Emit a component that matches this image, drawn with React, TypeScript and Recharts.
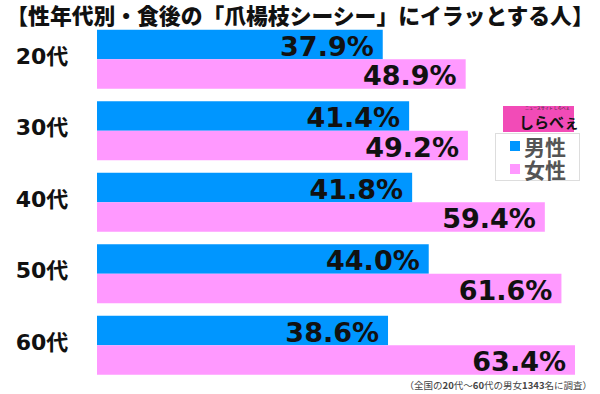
import React from 'react';
import { BarChart, Bar, XAxis, YAxis, LabelList } from 'recharts';

const categories = ['20代', '30代', '40代', '50代', '60代'];
const maleValues = [37.9, 41.4, 41.8, 44.0, 38.6];
const femaleValues = [48.9, 49.2, 59.4, 61.6, 63.4];
const seriesNames = ['男性', '女性'];
const title = '【性年代別・食後の「爪楊枝シーシー」にイラッとする人】';

const MALE = '#0096ff';
const FEMALE = '#ff99ff';

const data = categories.map((c, i) => ({ name: c, male: maleValues[i], female: femaleValues[i] }));

const numFont = '"DejaVu Sans", "Noto Sans CJK JP", sans-serif';
const jpFont = '"Noto Sans CJK JP", "DejaVu Sans", sans-serif';

const YTick = (props: any) => {
  const { y, payload } = props;
  return (
    <text x={42} y={y + 4} textAnchor="middle" fontSize={22} fontWeight="bold" fill="#111" fontFamily={numFont}>
      {payload.value}
    </text>
  );
};

const ValueLabel = (props: any) => {
  const { x, y, width, height, value } = props;
  return (
    <text
      x={x + width - 9}
      y={y + height / 2 + 11}
      textAnchor="end"
      fontSize={27}
      fontWeight="bold"
      fill="#111"
      fontFamily={numFont}
    >
      {Number(value).toFixed(1) + '%'}
    </text>
  );
};

const LegendBox = () => (
  <div style={{ position: 'absolute', left: 497, top: 106, width: 90, height: 80 }}>
    <div style={{ position: 'absolute', left: 6, top: 0, width: 71, height: 26, background: '#f24bb7' }}>
      <span
        style={{
          position: 'absolute', top: 0, left: 22, fontSize: 4, lineHeight: '5px', color: '#222', fontFamily: jpFont,
          whiteSpace: 'nowrap',
        }}
      >
        ニュースサイト しらべぇ
      </span>
      <span
        style={{
          position: 'absolute', top: 7, left: 16, fontSize: 15, fontWeight: 'bold', color: '#111', fontFamily: jpFont,
          lineHeight: '18px', whiteSpace: 'nowrap',
        }}
      >
        しらべぇ
      </span>
    </div>
    <div
      style={{
        position: 'absolute', left: -2, top: 27, width: 85, height: 48, border: '1px solid #ddd', boxSizing: 'border-box',
        background: '#fff',
      }}
    >
      {seriesNames.map((n, i) => (
        <div key={n} style={{ position: 'absolute', left: 14, top: 1 + i * 23, height: 22, display: 'flex', alignItems: 'center' }}>
          <div style={{ width: 10, height: 10, background: i === 0 ? MALE : FEMALE, marginRight: 4 }} />
          <span style={{ fontSize: 21, fontWeight: 'bold', color: '#555', fontFamily: jpFont, lineHeight: '22px' }}>{n}</span>
        </div>
      ))}
    </div>
  </div>
);

export default function App() {
  return (
    <div style={{ position: 'absolute', left: 0, top: 0, width: 600, height: 394, background: '#fff', overflow: 'hidden' }}>
      <div
        style={{
          position: 'absolute', left: 0, top: 1, width: 600, textAlign: 'center', fontFamily: jpFont,
          fontWeight: 900, fontSize: 21.8, color: '#111', lineHeight: '28px', whiteSpace: 'nowrap',
        }}
      >
        {title}
      </div>
      <BarChart
        width={600}
        height={394}
        data={data}
        layout="vertical"
        margin={{ top: 23.75, right: 5.4, bottom: 12.75, left: 0 }}
        barGap={0}
        barSize={29.5}
      >
        <XAxis type="number" domain={[0, 66]} hide />
        <YAxis type="category" dataKey="name" width={97} axisLine={false} tickLine={false} tick={<YTick />} interval={0} />
        <Bar dataKey="male" name={seriesNames[0]} fill={MALE} isAnimationActive={false}>
          <LabelList dataKey="male" content={<ValueLabel />} />
        </Bar>
        <Bar dataKey="female" name={seriesNames[1]} fill={FEMALE} isAnimationActive={false}>
          <LabelList dataKey="female" content={<ValueLabel />} />
        </Bar>
      </BarChart>
      <LegendBox />
      <div
        style={{
          position: 'absolute', right: 8, top: 378, fontSize: 9.5, color: '#444', fontFamily: jpFont, whiteSpace: 'nowrap',
        }}
      >
        （全国の<b>20</b>代～<b>60</b>代の男女<b>1343</b>名に調査）
      </div>
    </div>
  );
}
